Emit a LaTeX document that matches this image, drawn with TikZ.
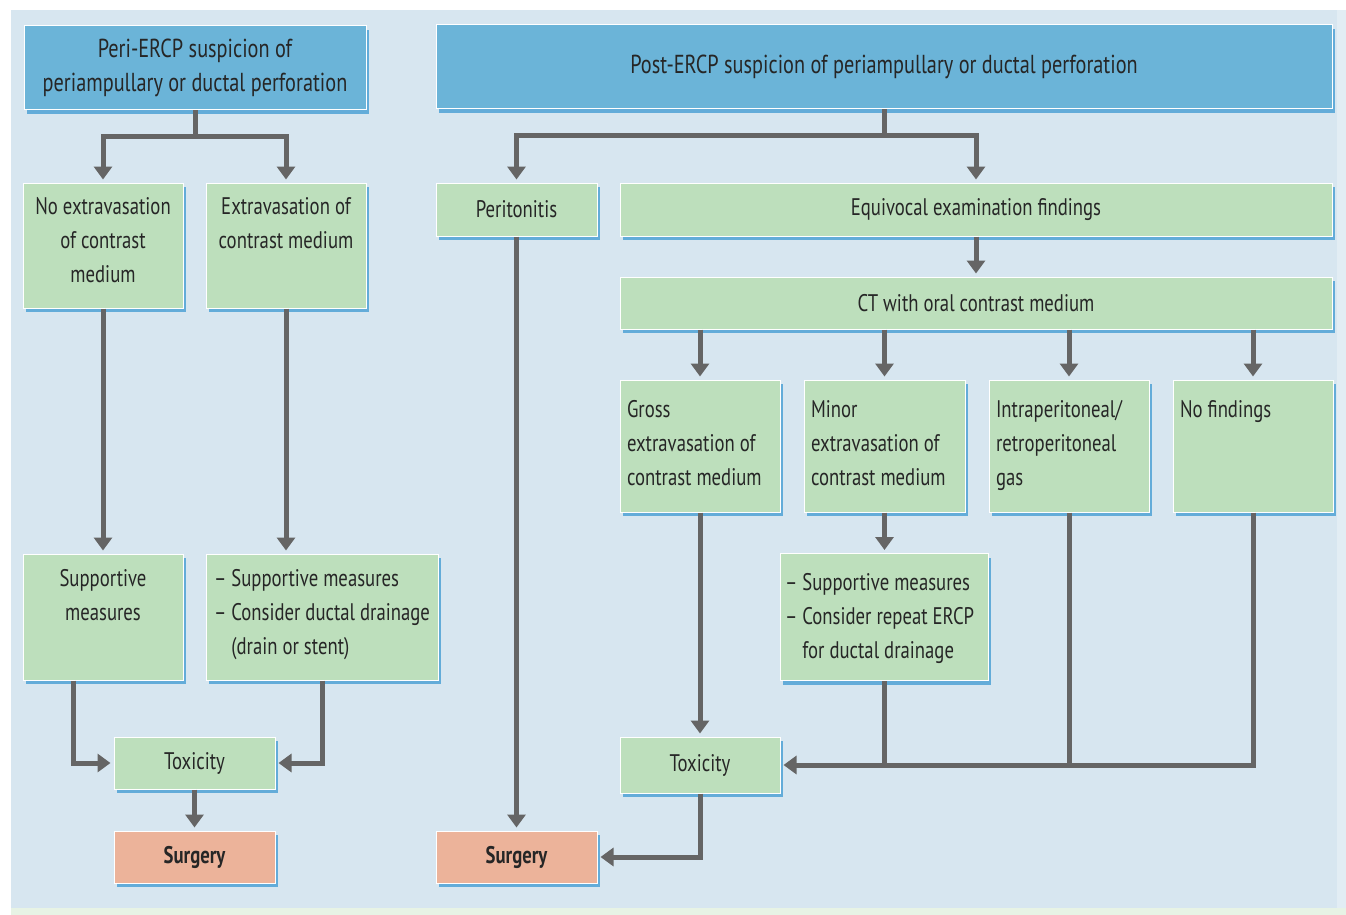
\documentclass[tikz,border=0pt]{standalone}
\usepackage{fontspec}
\setmainfont{PT Sans}[FakeStretch=0.78]
\usetikzlibrary{arrows.meta,shadows}

\definecolor{panel}{HTML}{D7E6F0}
\definecolor{paneledge}{HTML}{E2EDF4}
\definecolor{footgreen}{HTML}{E7F3E5}
\definecolor{bluebox}{HTML}{6BB4D8}
\definecolor{greenbox}{HTML}{BDDFBC}
\definecolor{surgbox}{HTML}{ECB39A}
\definecolor{shadeblue}{HTML}{4FA3D6}
\definecolor{arrowgray}{HTML}{656565}
\definecolor{textgray}{HTML}{262626}

% text hung from the top of a box: padding height, width, text
\newcommand{\toptext}[3]{\parbox[t][#1][t]{#2}{\strut#3}}

\begin{document}
\begin{tikzpicture}[
        %We work in pixels, y running down, and define some styles
        x=1pt, y=-1pt,
        every node/.style={text=textgray, font=\fontsize{24}{34}\selectfont},
        box/.style={draw=white, line width=1pt, fill=greenbox, inner sep=0pt,
            drop shadow={shadow xshift=3pt, shadow yshift=-4pt, fill=shadeblue, opacity=0.85}},
        topbox/.style={box, fill=bluebox, font=\fontsize{26}{34}\selectfont},
        surgbox/.style={box, fill=surgbox, font=\fontsize{24}{34}\selectfont\bfseries},
        size/.style 2 args={minimum width=#1, minimum height=#2},
        line/.style={draw=arrowgray, line width=5pt},
        arrow/.style={line, -{Triangle[width=18pt,length=13pt]}, shorten >=3pt}
]
    \useasboundingbox (0,0) rectangle (1346,915);
    % background panel
    \fill[panel] (11,10) rectangle (1337,908);
    \fill[paneledge] (1337,10) rectangle (1346,908);
    \fill[footgreen] (11,908) rectangle (1346,915);

    % peri-ERCP branch
    \node[topbox, size={342pt}{84pt}, align=center] (peri) at (195,68)
        {Peri-ERCP suspicion of\\periampullary or ductal perforation};
    \node[box, size={160pt}{125pt}] (noext) at (103,245.5)
        {\toptext{109pt}{150pt}{\centering No extravasation\\of contrast\\medium}};
    \node[box, size={160pt}{125pt}] (ext) at (286,245.5)
        {\toptext{109pt}{150pt}{\centering Extravasation of\\contrast medium}};
    \node[box, size={160pt}{126pt}] (supp) at (103,617)
        {\toptext{108pt}{150pt}{\centering Supportive\\measures}};
    \node[box, size={232pt}{126pt}] (drainL) at (322,617)
        {\toptext{108pt}{216pt}{-- Supportive measures\\-- Consider ductal drainage\\\hphantom{-- }(drain or stent)}};
    \node[box, size={161pt}{52pt}] (toxL) at (194.5,763) {Toxicity};
    \node[surgbox, size={161pt}{52pt}] (surgL) at (194.5,857) {Surgery};

    % post-ERCP branch
    \node[topbox, size={896pt}{84pt}] (post) at (884,67)
        {Post-ERCP suspicion of periampullary or ductal perforation};
    \node[box, size={161pt}{53pt}] (perit) at (516.5,209.5) {Peritonitis};
    \node[box, size={712pt}{53pt}] (equiv) at (976,209.5) {Equivocal examination findings};
    \node[box, size={712pt}{52pt}] (ct) at (976,303) {CT with oral contrast medium};
    \node[box, size={160pt}{132pt}] (gross) at (700,446)
        {\toptext{104pt}{146pt}{Gross\\extravasation of\\contrast medium}};
    \node[box, size={161pt}{132pt}] (minor) at (884.5,446)
        {\toptext{104pt}{147pt}{Minor\\extravasation of\\contrast medium}};
    \node[box, size={160pt}{132pt}] (intra) at (1069,446)
        {\toptext{104pt}{146pt}{Intraperitoneal/\\retroperitoneal\\gas}};
    \node[box, size={160pt}{132pt}] (nofind) at (1253,446)
        {\toptext{104pt}{146pt}{No findings}};
    \node[box, size={208pt}{127pt}] (drainR) at (884,617)
        {\toptext{101pt}{198pt}{-- Supportive measures\\-- Consider repeat ERCP\\\hphantom{-- }for ductal drainage}};
    \node[box, size={160pt}{56pt}] (toxR) at (700,765) {Toxicity};
    \node[surgbox, size={161pt}{52pt}] (surgR) at (516.5,857) {Surgery};

    % connectors, left side
    \draw[line] (peri.south) -- ++(0,26) coordinate (peri-split);
    \draw[arrow] (peri-split) -| (noext.north);
    \draw[arrow] (peri-split) -| (ext.north);
    \draw[arrow] (noext.south) -- (supp.north);
    \draw[arrow] (ext.south) -- (ext.south |- drainL.north);
    \draw[arrow] ([xshift=-30pt]supp.south) |- (toxL.west);
    \draw[arrow] (drainL.south) |- (toxL.east);
    \draw[arrow] (toxL.south) -- (surgL.north);

    % connectors, right side
    \draw[line] (post.south) -- ++(0,26) coordinate (post-split);
    \draw[arrow] (post-split) -| (perit.north);
    \draw[arrow] (post-split) -| (equiv.north);
    \draw[arrow] (equiv.south) -- (ct.north);
    \foreach \n in {gross,minor,intra,nofind}
        \draw[arrow] (ct.south -| \n.north) -- (\n.north);
    \draw[arrow] (perit.south) -- (surgR.north);
    \draw[arrow] (gross.south) -- (toxR.north);
    \draw[arrow] (minor.south) -- (minor.south |- drainR.north);
    \draw[line] (drainR.south) -- (drainR.south |- toxR.east);
    \draw[line] (intra.south) -- (intra.south |- toxR.east);
    \draw[arrow] (nofind.south) |- (toxR.east);
    \draw[arrow] (toxR.south) |- (surgR.east);
\end{tikzpicture}
\end{document}
